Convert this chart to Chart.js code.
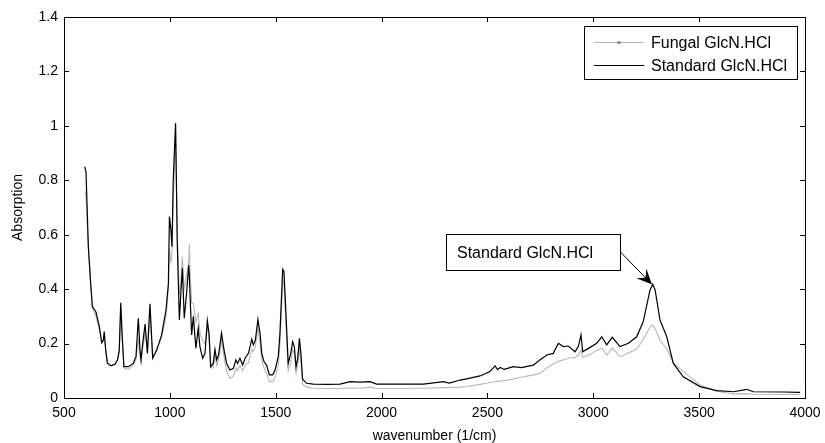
<!DOCTYPE html>
<html>
<head>
<meta charset="utf-8">
<script src="https://cdn.jsdelivr.net/npm/chart.js@4.4.1/dist/chart.umd.min.js"></script>
<style>
  html, body { margin: 0; padding: 0; background: #fff; }
  #wrap { width: 825px; height: 443px; position: relative; }
</style>
</head>
<body>
<div id="wrap"><canvas id="chart"></canvas></div>
<script>
// FTIR spectra
const wavenumbers = [
  598, 604, 615, 626, 634, 651, 667, 678, 686, 690, 697, 705, 722, 741, 753, 761, 768, 775, 783, 804,
  827, 840, 851, 859, 864, 870, 883, 894, 906, 919, 938, 961, 982, 993, 998, 1005, 1010, 1016, 1027, 1035,
  1045, 1051, 1059, 1068, 1079, 1089, 1092, 1098, 1103, 1111, 1123, 1134, 1142, 1155, 1166, 1177, 1185, 1193, 1205, 1213,
  1221, 1230, 1244, 1256, 1268, 1284, 1300, 1312, 1320, 1331, 1344, 1355, 1371, 1387, 1394, 1404, 1416, 1426, 1434, 1445,
  1457, 1470, 1486, 1497, 1512, 1520, 1533, 1539, 1549, 1559, 1571, 1580, 1588, 1596, 1604, 1612, 1619, 1627, 1646, 1678,
  1741, 1804, 1851, 1900, 1945, 1977, 2087, 2197, 2292, 2320, 2371, 2402, 2465, 2512, 2536, 2548, 2560, 2580, 2622, 2660,
  2717, 2748, 2780, 2811, 2835, 2859, 2882, 2914, 2930, 2942, 2950, 2985, 3016, 3040, 3063, 3090, 3126, 3166, 3205, 3236,
  3268, 3281, 3292, 3315, 3347, 3378, 3425, 3504, 3583, 3662, 3725, 3756, 3900, 3977
];
const standardAbs = [
  0.85, 0.83, 0.556, 0.42, 0.336, 0.316, 0.262, 0.203, 0.213, 0.244, 0.176, 0.128, 0.118, 0.124, 0.14, 0.176, 0.35, 0.225, 0.115, 0.115,
  0.127, 0.152, 0.293, 0.176, 0.14, 0.189, 0.272, 0.164, 0.346, 0.146, 0.176, 0.232, 0.324, 0.42, 0.667, 0.618, 0.556, 0.80, 1.01, 0.569,
  0.287, 0.372, 0.477, 0.293, 0.385, 0.489, 0.45, 0.324, 0.232, 0.30, 0.183, 0.256, 0.189, 0.146, 0.164, 0.284, 0.238, 0.115, 0.127, 0.179,
  0.14, 0.158, 0.238, 0.176, 0.127, 0.103, 0.109, 0.14, 0.127, 0.146, 0.121, 0.146, 0.164, 0.216, 0.195, 0.213, 0.289, 0.238, 0.164, 0.133,
  0.121, 0.085, 0.085, 0.103, 0.152, 0.238, 0.473, 0.464, 0.299, 0.127, 0.164, 0.207, 0.189, 0.115, 0.146, 0.219, 0.164, 0.069, 0.054, 0.051,
  0.05, 0.051, 0.06, 0.058, 0.06, 0.051, 0.051, 0.051, 0.06, 0.055, 0.066, 0.07, 0.081, 0.097, 0.118, 0.104, 0.112, 0.105, 0.115, 0.112,
  0.121, 0.14, 0.158, 0.164, 0.201, 0.189, 0.191, 0.17, 0.191, 0.232, 0.17, 0.186, 0.201, 0.225, 0.195, 0.223, 0.189, 0.201, 0.225, 0.281,
  0.397, 0.418, 0.397, 0.287, 0.225, 0.127, 0.078, 0.042, 0.027, 0.023, 0.032, 0.023, 0.022, 0.021
];
const fungalAbs = [
  0.76, 0.74, 0.55, 0.42, 0.33, 0.30, 0.25, 0.21, 0.21, 0.23, 0.17, 0.13, 0.12, 0.125, 0.14, 0.17, 0.33, 0.22, 0.11, 0.105,
  0.12, 0.14, 0.22, 0.15, 0.13, 0.17, 0.24, 0.17, 0.30, 0.15, 0.18, 0.22, 0.30, 0.40, 0.55, 0.50, 0.52, 0.72, 0.98, 0.60,
  0.38, 0.42, 0.52, 0.40, 0.45, 0.50, 0.565, 0.42, 0.35, 0.348, 0.28, 0.31, 0.24, 0.21, 0.20, 0.26, 0.22, 0.11, 0.11, 0.16,
  0.12, 0.14, 0.21, 0.15, 0.10, 0.072, 0.08, 0.11, 0.10, 0.12, 0.10, 0.12, 0.13, 0.18, 0.17, 0.19, 0.26, 0.20, 0.14, 0.11,
  0.09, 0.06, 0.06, 0.075, 0.12, 0.20, 0.43, 0.42, 0.26, 0.10, 0.13, 0.18, 0.16, 0.09, 0.12, 0.18, 0.13, 0.05, 0.04, 0.036,
  0.035, 0.035, 0.037, 0.036, 0.04, 0.035, 0.035, 0.036, 0.038, 0.038, 0.04, 0.042, 0.05, 0.057, 0.06, 0.061, 0.062, 0.064, 0.07, 0.076,
  0.085, 0.091, 0.11, 0.125, 0.135, 0.14, 0.146, 0.15, 0.158, 0.175, 0.15, 0.16, 0.175, 0.183, 0.158, 0.183, 0.152, 0.165, 0.18, 0.215,
  0.26, 0.268, 0.255, 0.213, 0.18, 0.13, 0.097, 0.048, 0.025, 0.015, 0.016, 0.014, 0.013, 0.013
];
const xTicks = [500, 1000, 1500, 2000, 2500, 3000, 3500, 4000];
const yTicks = [0, 0.2, 0.4, 0.6, 0.8, 1, 1.2, 1.4];
const legendLabels = ['Fungal GlcN.HCl', 'Standard GlcN.HCl'];
const annotationText = 'Standard GlcN.HCl';
const annotationPoint = { x: 3281, y: 0.418 };

const FONT = "'Liberation Sans', Arial, Helvetica, sans-serif";
const GRAY = '#b8b8b8';

const toPoints = ys => wavenumbers.map((x, i) => ({ x, y: ys[i] }));

// MATLAB-ish frame: box, inward ticks, boxed legend and text arrow
const matlabFrame = {
  id: 'matlabFrame',
  afterDraw(chart) {
    const { ctx, chartArea: a, scales: { x, y } } = chart;
    ctx.save();
    ctx.strokeStyle = '#000';
    ctx.lineWidth = 1;
    ctx.strokeRect(Math.round(a.left) + 0.5, Math.round(a.top) + 0.5,
      Math.round(a.right - a.left), Math.round(a.bottom - a.top));

    const tl = 5;
    ctx.beginPath();
    xTicks.forEach(v => {
      const px = Math.round(x.getPixelForValue(v)) + 0.5;
      ctx.moveTo(px, a.bottom); ctx.lineTo(px, a.bottom - tl);
      ctx.moveTo(px, a.top); ctx.lineTo(px, a.top + tl);
    });
    yTicks.forEach(v => {
      const py = Math.round(y.getPixelForValue(v)) + 0.5;
      ctx.moveTo(a.left, py); ctx.lineTo(a.left + tl, py);
      ctx.moveTo(a.right, py); ctx.lineTo(a.right - tl, py);
    });
    ctx.stroke();

    // legend
    const lx = 584.5, ly = 26.5, lw = 213, lh = 53;
    ctx.fillStyle = '#fff';
    ctx.fillRect(lx, ly, lw, lh);
    ctx.strokeRect(lx, ly, lw, lh);
    ctx.font = '16px ' + FONT;
    ctx.textBaseline = 'middle';
    ctx.textAlign = 'left';
    const rows = [
      { y: 42.5, color: GRAY, dot: true },
      { y: 65.5, color: '#000', dot: false }
    ];
    rows.forEach((r, i) => {
      ctx.strokeStyle = r.color;
      ctx.beginPath(); ctx.moveTo(594, r.y); ctx.lineTo(644, r.y); ctx.stroke();
      if (r.dot) {
        ctx.fillStyle = '#808080';
        ctx.beginPath(); ctx.arc(619, r.y, 1.6, 0, Math.PI * 2); ctx.fill();
      }
      ctx.fillStyle = '#000';
      ctx.fillText(legendLabels[i], 651, r.y + 1);
    });

    // text arrow
    const bx = 446.5, by = 234.5, bw = 174, bh = 36;
    ctx.strokeStyle = '#000';
    ctx.fillStyle = '#fff';
    ctx.fillRect(bx, by, bw, bh);
    ctx.strokeRect(bx, by, bw, bh);
    ctx.fillStyle = '#000';
    ctx.fillText(annotationText, 457, by + bh / 2 + 1);

    const tx = x.getPixelForValue(annotationPoint.x) - 1;
    const ty = y.getPixelForValue(annotationPoint.y);
    const sx = bx + bw, sy = 252;
    const ang = Math.atan2(ty - sy, tx - sx);
    ctx.beginPath(); ctx.moveTo(sx, sy); ctx.lineTo(tx, ty); ctx.stroke();
    const hl = 15, hw = 7;
    const bxp = tx - hl * Math.cos(ang), byp = ty - hl * Math.sin(ang);
    const mx = tx - hl * 0.6 * Math.cos(ang), my = ty - hl * 0.6 * Math.sin(ang);
    ctx.beginPath();
    ctx.moveTo(tx, ty);
    ctx.lineTo(bxp - hw * Math.sin(ang), byp + hw * Math.cos(ang));
    ctx.lineTo(mx, my);
    ctx.lineTo(bxp + hw * Math.sin(ang), byp - hw * Math.cos(ang));
    ctx.closePath();
    ctx.fill();
    ctx.restore();
  }
};

new Chart(document.getElementById('chart'), {
  type: 'line',
  data: {
    datasets: [
      {
        label: legendLabels[1],
        data: toPoints(standardAbs),
        borderColor: '#000',
        borderWidth: 1.2,
        pointRadius: 0,
        tension: 0,
        order: 1
      },
      {
        label: legendLabels[0],
        data: toPoints(fungalAbs),
        borderColor: GRAY,
        borderWidth: 1.1,
        pointRadius: 0,
        tension: 0,
        order: 2
      }
    ]
  },
  options: {
    responsive: true,
    maintainAspectRatio: false,
    animation: false,
    events: [],
    layout: { padding: { top: 17, right: 20, left: 0, bottom: 0 } },
    plugins: { legend: { display: false }, tooltip: { enabled: false } },
    scales: {
      x: {
        type: 'linear',
        min: 500,
        max: 4000,
        afterBuildTicks: s => { s.ticks = xTicks.map(v => ({ value: v })); },
        afterFit: s => { s.height = 45; s.paddingLeft = 0; s.paddingRight = 0; },
        grid: { display: false, drawTicks: false },
        border: { display: false },
        ticks: {
          color: '#000',
          padding: 7,
          maxRotation: 0,
          font: { family: FONT, size: 14 },
          callback: v => String(v)
        },
        title: {
          display: true,
          text: 'wavenumber (1/cm)',
          color: '#000',
          padding: 0,
          font: { family: FONT, size: 14, lineHeight: 1 }
        }
      },
      y: {
        type: 'linear',
        min: 0,
        max: 1.4,
        afterBuildTicks: s => { s.ticks = yTicks.map(v => ({ value: v })); },
        afterFit: s => { s.width = 64; s.paddingTop = 0; s.paddingBottom = 0; },
        grid: { display: false, drawTicks: false },
        border: { display: false },
        ticks: {
          color: '#000',
          padding: 6,
          font: { family: FONT, size: 14 },
          callback: v => String(+v.toFixed(1))
        },
        title: {
          display: true,
          text: 'Absorption',
          color: '#000',
          padding: { top: 11, bottom: 0 },
          font: { family: FONT, size: 14, lineHeight: 1 }
        }
      }
    }
  },
  plugins: [matlabFrame]
});
</script>
</body>
</html>
